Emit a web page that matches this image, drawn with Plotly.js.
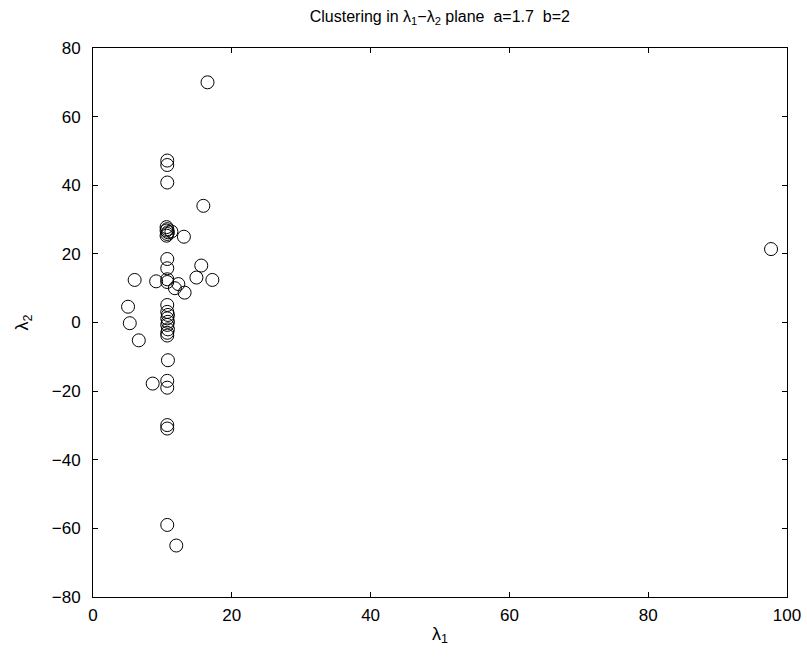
<!DOCTYPE html>
<html>
<head>
<meta charset="utf-8">
<script src="https://cdn.plot.ly/plotly-3.0.1.min.js"></script>
<style>html,body{margin:0;padding:0;background:#fff;}#plot{width:807px;height:660px;}</style>
</head>
<body>
<div id="plot"></div>
<script>
const lambda1 = [16.5, 10.7, 10.7, 10.7, 15.9, 10.6, 10.7, 10.6, 10.8, 10.7, 10.6, 11.3, 13.1,
  10.7, 10.7, 15.6, 6.0, 9.1, 10.7, 10.7, 14.9, 17.2, 12.3, 11.8, 13.2,
  5.05, 10.7, 5.3, 10.7, 10.8, 10.7, 10.8, 10.7, 10.8, 10.7, 10.7, 6.6,
  10.8, 8.6, 10.7, 10.7, 10.7, 10.7, 10.7, 12.0, 97.7];
const lambda2 = [70.0, 47.2, 45.9, 40.8, 34.0, 27.8, 27.2, 26.8, 26.3, 25.8, 25.3, 26.5, 25.0,
  18.5, 15.8, 16.6, 12.4, 12.0, 12.6, 11.8, 13.1, 12.4, 11.2, 10.0, 8.7,
  4.6, 5.1, -0.2, 3.1, 2.2, 1.2, 0.2, -0.7, -2.0, -3.0, -3.8, -5.2,
  -11.0, -17.8, -17.0, -19.0, -29.9, -30.9, -59.0, -65.0, 21.4];
const xTicks = [0, 20, 40, 60, 80, 100];
const yTicks = [-80, -60, -40, -20, 0, 20, 40, 60, 80];

const font = {family: 'Liberation Sans, Arial, sans-serif', color: '#000'};
const axisCommon = {
  showgrid: false, zeroline: false, showline: true, linecolor: '#000', linewidth: 1,
  mirror: 'ticks', ticks: 'inside', ticklen: 5, tickcolor: '#000', tickwidth: 1,
  tickfont: Object.assign({size: 17}, font), tickmode: 'array'
};
Plotly.newPlot('plot', [{
  x: lambda1, y: lambda2, type: 'scatter', mode: 'markers',
  marker: {symbol: 'circle-open', size: 13, color: '#000', line: {width: 1, color: '#000'}},
  hoverinfo: 'x+y'
}], {
  width: 807, height: 660,
  margin: {l: 93, r: 20, t: 48, b: 63},
  paper_bgcolor: '#fff', plot_bgcolor: '#fff',
  showlegend: false,
  title: {text: 'Clustering in λ<sub>1</sub>\u2212λ<sub>2</sub> plane\u00a0\u00a0a=1.7\u00a0\u00a0b=2',
    font: Object.assign({size: 16}, font), x: 0.545, xanchor: 'center', y: 0.975, yanchor: 'middle'},
  xaxis: Object.assign({}, axisCommon, {range: [0, 100], tickvals: xTicks, ticklabelstandoff: 3,
    title: {text: 'λ<sub>1</sub>', font: Object.assign({size: 18}, font), standoff: 2}}),
  yaxis: Object.assign({}, axisCommon, {range: [-80, 80], tickvals: yTicks, ticklabelstandoff: 8,
    title: {text: 'λ<sub>2</sub>', font: Object.assign({size: 18}, font), standoff: 18}})
}, {displayModeBar: false, staticPlot: true});
</script>
</body>
</html>
